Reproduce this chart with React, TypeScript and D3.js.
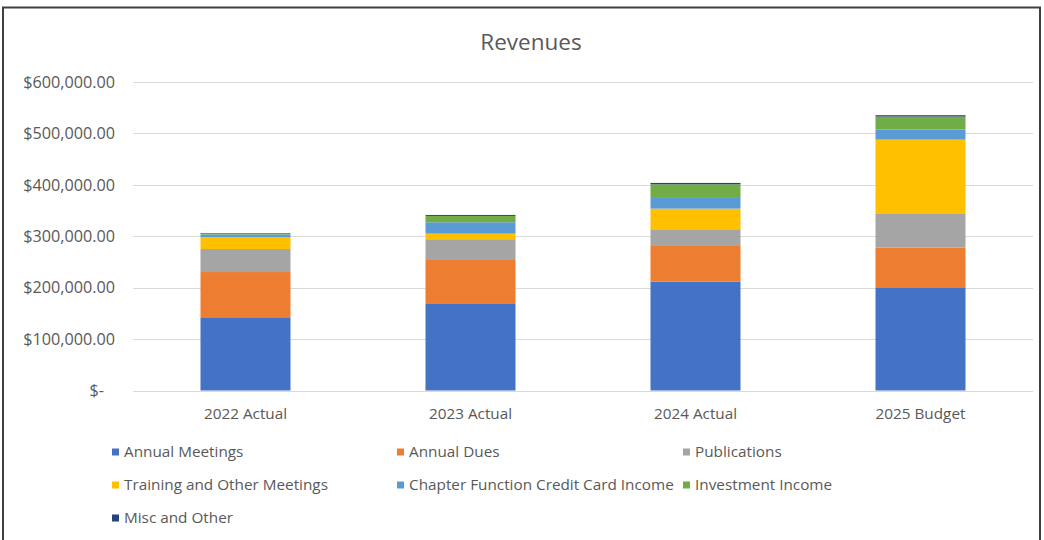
import React from "react";
import * as d3 from "d3";

const categories = ["2022 Actual", "2023 Actual", "2024 Actual", "2025 Budget"];
const seriesNames = [
  "Annual Meetings",
  "Annual Dues",
  "Publications",
  "Training and Other Meetings",
  "Chapter Function Credit Card Income",
  "Investment Income",
  "Misc and Other",
];
const seriesColors = ["#4472C4", "#ED7D31", "#A5A5A5", "#FFC000", "#5B9BD5", "#70AD47", "#264478"];
const annualMeetings = [142400, 168300, 211700, 199400];
const annualDues = [88000, 85600, 69400, 78400];
const publications = [44800, 40300, 32500, 65600];
const training = [23300, 10900, 40100, 144600];
const chapterFunction = [5000, 22100, 20800, 19500];
const investment = [1000, 12300, 26600, 25300];
const miscOther = [1200, 1900, 2600, 2600];
const yTicks = [0, 100000, 200000, 300000, 400000, 500000, 600000];

const seriesValues = [annualMeetings, annualDues, publications, training, chapterFunction, investment, miscOther];

const W = 1044;
const H = 540;
const FONT = "'Open Sans', sans-serif";

export default function App() {
  const x = d3.scaleBand().domain(categories).range([133, 1033]).paddingInner(0.6).paddingOuter(0.3);
  const y = d3.scaleLinear().domain([0, 600000]).range([390.5, 82]);

  const rows = categories.map((c, i) => {
    const r: any = { cat: c };
    seriesNames.forEach((s, j) => (r[s] = seriesValues[j][i]));
    return r;
  });
  const stacked = d3.stack<any>().keys(seriesNames)(rows);

  const fmt = (v: number) => (v === 0 ? "$-" : "$" + d3.format(",.2f")(v));

  const legendCols = [112, 397, 683];
  const legendRows = [452, 485, 518];
  const fs = 15.3;

  return (
    <svg
      width={W}
      height={H}
      style={{ position: "absolute", left: 0, top: 0, background: "#fff" }}
      fontFamily={FONT}
    >
      <rect x={0} y={0} width={W} height={H} fill="#fff" />
      <rect x={3} y={7.5} width={1037} height={H + 10} fill="none" stroke="#404040" strokeWidth={2} />
      <text x={531} y={50} textAnchor="middle" fontSize={22.5} fill="#595959">
        Revenues
      </text>
      {yTicks.map((t) => (
        <g key={t}>
          <line x1={133} x2={1033} y1={Math.round(y(t)) + 0.5} y2={Math.round(y(t)) + 0.5} stroke="#d9d9d9" strokeWidth={1} />
          <text
            x={t === 0 ? 104 : 115}
            y={y(t)}
            dy="0.35em"
            textAnchor="end"
            fontSize={16.2}
            fill="#595959"
          >
            {fmt(t)}
          </text>
        </g>
      ))}
      {stacked.map((layer, j) => (
        <g key={layer.key} fill={seriesColors[j]}>
          {layer.map((d, i) => (
            <rect
              key={i}
              x={x(categories[i])}
              width={x.bandwidth()}
              y={y(d[1])}
              height={Math.max(0, y(d[0]) - y(d[1]))}
            />
          ))}
        </g>
      ))}
      {categories.map((c) => (
        <text key={c} x={(x(c) as number) + x.bandwidth() / 2} y={414} dy="0.35em" textAnchor="middle" fontSize={fs} fill="#595959">
          {c}
        </text>
      ))}
      {seriesNames.map((s, j) => {
        const cx = legendCols[j % 3];
        const cy = legendRows[Math.floor(j / 3)];
        return (
          <g key={s}>
            <rect x={cx} y={cy - 3.5} width={7} height={7} fill={seriesColors[j]} />
            <text x={cx + 12} y={cy} dy="0.35em" fontSize={fs} fill="#595959">
              {s}
            </text>
          </g>
        );
      })}
    </svg>
  );
}
